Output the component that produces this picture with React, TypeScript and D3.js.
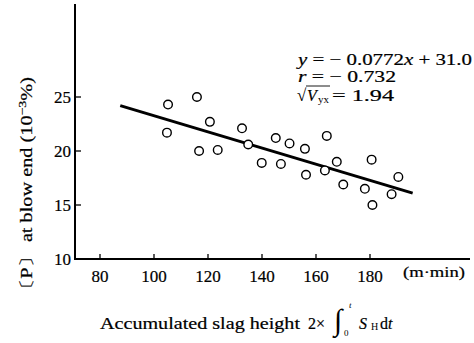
import React from "react";
import * as d3 from "d3";

const ptX = [105.2, 104.8, 115.9, 116.7, 120.7, 123.6, 132.6, 134.9, 139.9, 145.1, 147.0, 150.2, 155.9, 156.3, 164.0, 163.3, 167.7, 170.1, 178.1, 180.6, 180.9, 188.0, 190.5];
const ptY = [24.3, 21.7, 25.0, 20.0, 22.7, 20.1, 22.1, 20.6, 18.9, 21.2, 18.8, 20.7, 20.2, 17.8, 21.4, 18.2, 19.0, 16.9, 16.5, 19.2, 15.0, 16.0, 17.6];
const fitX = [87.5, 195.8];
const fitY = [24.2, 16.1];
const xTicks = [80, 100, 120, 140, 160, 180];
const yTicks = [10, 15, 20, 25];

const W = 474, H = 343;
const FONT = "'Liberation Serif', 'DejaVu Serif', serif";

export default function App() {
  const x = d3.scaleLinear().domain([80, 180]).range([100, 370]);
  const y = d3.scaleLinear().domain([10, 25]).range([259, 97]);
  const x0 = 75, y0 = 259;
  const line = d3.line<number>().x((_, i) => x(fitX[i])).y((_, i) => y(fitY[i]));
  const heavy = { stroke: "#000", strokeWidth: 0.2 };

  return (
    <svg width={W} height={H} style={{ position: "absolute", left: 0, top: 0, background: "#fff" }} fontFamily={FONT}>
      {/* axes */}
      <line x1={x0} y1={4} x2={x0} y2={y0 + 1} stroke="#000" strokeWidth={2} />
      <line x1={x0 - 1} y1={y0} x2={470} y2={y0} stroke="#000" strokeWidth={2} />
      {xTicks.map((t) => (
        <g key={t}>
          <line x1={x(t)} x2={x(t)} y1={y0} y2={y0 - 5} stroke="#000" strokeWidth={1.3} />
          <text x={x(t)} y={282} textAnchor="middle" fontSize={17} {...heavy}>{t}</text>
        </g>
      ))}
      {yTicks.map((t) => (
        <g key={t}>
          <line x1={x0} x2={x0 + 6} y1={y(t)} y2={y(t)} stroke="#000" strokeWidth={1.3} />
          <text x={71} y={y(t) + 6} textAnchor="end" fontSize={17} {...heavy}>{t}</text>
        </g>
      ))}
      <text x={403} y={277} fontSize={14} textLength={62} lengthAdjust="spacingAndGlyphs" {...heavy}>(m·min)</text>

      {/* fit line */}
      <path d={line(fitX) || ""} fill="none" stroke="#000" strokeWidth={3} />

      {/* points */}
      {ptX.map((v, i) => (
        <circle key={i} cx={x(v)} cy={y(ptY[i])} r={4.3} fill="#fff" stroke="#000" strokeWidth={1.4} />
      ))}

      {/* equation */}
      <text x={298} y={65} fontSize={16} textLength={174} lengthAdjust="spacingAndGlyphs" {...heavy}>
        <tspan fontStyle="italic">y</tspan> = − 0.0772<tspan fontStyle="italic">x</tspan> + 31.0
      </text>
      <text x={298} y={82} fontSize={16} textLength={98} lengthAdjust="spacingAndGlyphs" {...heavy}>
        <tspan fontStyle="italic">r</tspan> = − 0.732
      </text>
      <g>
        <text x={297} y={101} fontSize={17}>√</text>
        <line x1={306} x2={330} y1={86} y2={86} stroke="#000" strokeWidth={0.9} />
        <text x={307} y={101} fontSize={16} fontStyle="italic" {...heavy}>V</text>
        <text x={318} y={103} fontSize={11}>yx</text>
        <text x={332} y={101} fontSize={16} textLength={62} lengthAdjust="spacingAndGlyphs" {...heavy}>= 1.94</text>
      </g>

      {/* y axis title */}
      <text transform="translate(32,188) rotate(-90)" textAnchor="middle" fontSize={16} textLength={222} lengthAdjust="spacingAndGlyphs" {...heavy}>
        〔P〕 at blow end (10<tspan dy={-6} fontSize={11}>−3</tspan><tspan dy={6}>%)</tspan>
      </text>

      {/* x axis title */}
      <text x={100} y={329} fontSize={16} textLength={200} lengthAdjust="spacingAndGlyphs" {...heavy}>Accumulated slag height</text>
      <text x={308} y={329} fontSize={16} {...heavy}>2×</text>
      <text x={334} y={330} fontSize={30}>∫</text>
      <text x={344} y={336} fontSize={9}>0</text>
      <text x={349} y={308} fontSize={9} fontStyle="italic">t</text>
      <text x={359} y={329} fontSize={16} fontStyle="italic" {...heavy}>S</text>
      <text x={371} y={330} fontSize={10}>H</text>
      <text x={380} y={329} fontSize={16} {...heavy}>d<tspan fontStyle="italic">t</tspan></text>
    </svg>
  );
}
